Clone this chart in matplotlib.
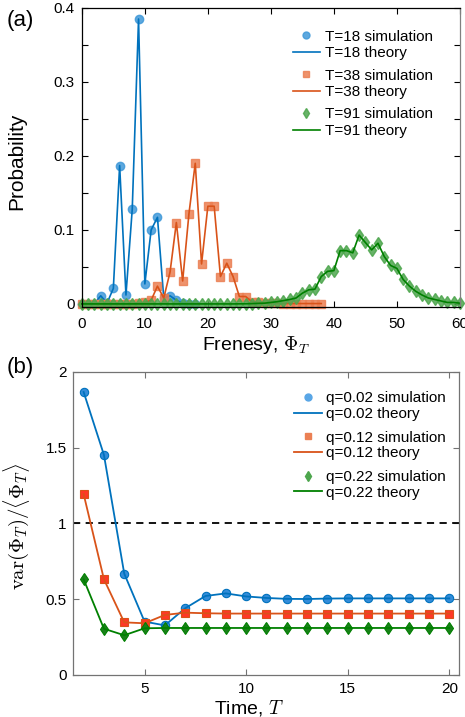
import numpy as np
import matplotlib.pyplot as plt
from matplotlib.ticker import MultipleLocator
from matplotlib.legend import Legend

plt.rcParams['font.family'] = ['Liberation Sans', 'DejaVu Sans']
plt.rcParams['mathtext.fontset'] = 'cm'

# (a) frenesy distributions
phi_18 = list(range(0, 19))
prob_18 = [0, 0, 0.0005, 0.011, 0.001, 0.021, 0.187, 0.012, 0.128, 0.385,
           0.027, 0.100, 0.117, 0.008, 0.011, 0.005, 0.001, 0.0005, 0.0003]

phi_38 = list(range(0, 39))
prob_38 = [0, 0, 0, 0, 0, 0, 0, 0, 0.0003, 0.001,
           0.002, 0.005, 0.024, 0.008, 0.043, 0.110, 0.031, 0.122, 0.190, 0.054,
           0.132, 0.132, 0.037, 0.055, 0.037, 0.010, 0.010, 0.003, 0.002, 0.001,
           0.0008, 0.0006, 0.0005, 0.0005, 0.0005, 0.0005, 0.0005, 0.0005, 0.0005]

phi_91 = list(range(0, 61))
prob_91 = [0, 0, 0, 0, 0, 0, 0, 0, 0, 0,
           0, 0, 0, 0, 0, 0, 0, 0, 0, 0,
           0, 0, 0, 0, 0, 0.0001, 0.0002, 0.0004, 0.0007, 0.001,
           0.002, 0.003, 0.0045, 0.006, 0.008, 0.0145, 0.019, 0.020, 0.037, 0.044,
           0.045, 0.072, 0.072, 0.069, 0.093, 0.083, 0.073, 0.082, 0.064, 0.052,
           0.048, 0.033, 0.024, 0.017, 0.012, 0.008, 0.006, 0.004, 0.002, 0.002,
           0.001]

# (b) variance / mean vs time
time_T = list(range(2, 21))
ratio_002 = [1.866, 1.451, 0.668, 0.352, 0.327, 0.440, 0.521, 0.538, 0.518, 0.508,
             0.502, 0.501, 0.504, 0.505, 0.505, 0.505, 0.505, 0.505, 0.505]
ratio_012 = [1.193, 0.631, 0.347, 0.341, 0.396, 0.411, 0.407, 0.405, 0.405, 0.405,
             0.405, 0.405, 0.405, 0.405, 0.405, 0.405, 0.405, 0.405, 0.405]
ratio_022 = [0.631, 0.305, 0.262, 0.308, 0.310, 0.310, 0.310, 0.310, 0.310, 0.310,
             0.310, 0.310, 0.310, 0.310, 0.310, 0.310, 0.310, 0.310, 0.310]

blue = (0.0, 0.447, 0.741)
orange = (0.85, 0.325, 0.098)
green = (0.0, 0.5, 0.0)


def style_axes(ax, spine_color):
    ax.tick_params(direction='in', top=True, right=True, labelsize=11,
                   length=4, width=0.8, which='both', color=spine_color)
    ax.tick_params(axis='y', pad=5)
    for s in ax.spines.values():
        s.set_color(spine_color)
        s.set_linewidth(0.9)


def add_group_legends(ax, handles, x0, y0, step, spacing):
    # one small legend per sim/theory pair, stacked
    for i, (sim, th) in enumerate(handles):
        leg = Legend(ax, [sim, th], [sim.get_label(), th.get_label()],
                     loc='upper right', bbox_to_anchor=(x0, y0 - i * step),
                     frameon=False, fontsize=11, handlelength=1.8,
                     handletextpad=0.3, labelspacing=spacing, borderpad=0,
                     borderaxespad=0)
        ax.add_artist(leg)


def main():
    fig = plt.figure(figsize=(4.65, 7.17), dpi=100)

    # panel (a)
    ax1 = fig.add_axes([0.176, 0.572, 0.813, 0.417])
    series_a = [
        (phi_18, prob_18, 'o', (0.25, 0.6, 0.85), blue, 'T=18'),
        (phi_38, prob_38, 's', (0.92, 0.5, 0.33), orange, 'T=38'),
        (phi_91, prob_91, 'd', (0.3, 0.65, 0.3), green, 'T=91'),
    ]
    handles = []
    for x, y, mk, mc, lc, name in series_a:
        ax1.plot(x, y, mk, color=mc, ms=6, alpha=0.85, mec=mc, clip_on=False)
        th, = ax1.plot(x, y, '-', color=lc, lw=1.2, label=name + ' theory',
                       clip_on=False)
        sim, = ax1.plot([], [], mk, color=mc, ms=5, alpha=0.85,
                        label=name + ' simulation')
        handles.append((sim, th))
    ax1.set_xlim(0, 60)
    ax1.set_ylim(-0.004, 0.4)
    ax1.xaxis.set_major_locator(MultipleLocator(10))
    ax1.yaxis.set_minor_locator(MultipleLocator(0.05))
    ax1.set_yticks([0, 0.1, 0.2, 0.3, 0.4], ['0', '0.1', '0.2', '0.3', '0.4'])
    ax1.set_xlabel(r'Frenesy, $\Phi_T$', fontsize=14)
    ax1.xaxis.set_label_coords(0.46, -0.09)
    ax1.set_ylabel('Probability', fontsize=15)
    ax1.yaxis.set_label_coords(-0.148, 0.487)
    style_axes(ax1, 'black')
    ax1.tick_params(axis='x', pad=7)
    ax1.spines['right'].set_color('0.5')
    add_group_legends(ax1, handles, 0.928, 0.927, 0.13, 0.16)

    # panel (b)
    ax2 = fig.add_axes([0.158, 0.0586, 0.830, 0.423])
    series_b = [
        (ratio_002, 'o', (0.2, 0.55, 0.85), blue, (0.35, 0.65, 0.9), 'q=0.02'),
        (ratio_012, 's', (1.0, 0.22, 0.15), orange, (0.92, 0.5, 0.33), 'q=0.12'),
        (ratio_022, 'd', (0.1, 0.5, 0.1), green, (0.3, 0.65, 0.3), 'q=0.22'),
    ]
    ax2.axhline(1, color='black', ls=(0, (4, 3)), lw=1.3)
    handles = []
    for y, mk, mc, lc, legc, name in series_b:
        ax2.plot(time_T, y, mk, color=mc, mec=lc, ms=6, mew=0.8, clip_on=False)
        th, = ax2.plot(time_T, y, '-', color=lc, lw=1.3, label=name + ' theory')
        sim, = ax2.plot([], [], mk, color=legc, ms=5, label=name + ' simulation')
        handles.append((sim, th))
    ax2.set_xlim(1.5, 20.5)
    ax2.set_ylim(0, 2)
    ax2.set_xticks([5, 10, 15, 20])
    ax2.set_yticks([0, 0.5, 1, 1.5, 2], ['0', '0.5', '1', '1.5', '2'])
    ax2.set_xlabel(r'Time, $T$', fontsize=14)
    ax2.xaxis.set_label_coords(0.455, -0.075)
    ax2.set_ylabel(r'$\mathrm{var}(\Phi_T)/\langle\Phi_T\rangle$', fontsize=15)
    ax2.yaxis.set_label_coords(-0.108, 0.49)
    style_axes(ax2, '0.45')
    ax2.tick_params(labelcolor='black')
    ax2.tick_params(axis='x', pad=5)
    add_group_legends(ax2, handles, 0.965, 0.936, 0.13, 0.12)

    fig.text(0.015, 0.971, '(a)', fontsize=16, va='center')
    fig.text(0.015, 0.488, '(b)', fontsize=16, va='center')

    fig.savefig('out.png', dpi=100)


if __name__ == '__main__':
    main()
